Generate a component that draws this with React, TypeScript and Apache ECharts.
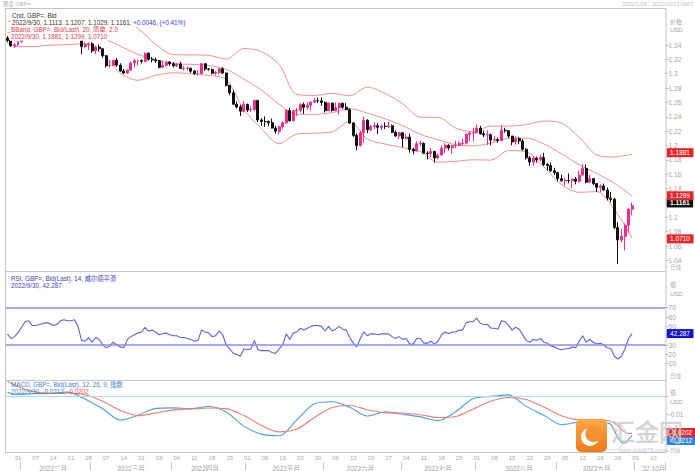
import React, { useEffect, useRef } from "react";
import * as echarts from "echarts";

const FONT = "'Liberation Sans', Arial, 'Noto Sans CJK SC', sans-serif";

const firstDay = "2022-01-26";
const lastDay = "2022-10-13";

// daily bars: [open, high, low, close]
const janBars = [
  [1.3497, 1.3526, 1.3438, 1.3464], [1.3464, 1.3470, 1.3372, 1.3388], [1.3388, 1.3428, 1.3358, 1.3405],
  [1.3405, 1.3452, 1.3384, 1.3446],
];
const febBars = [
  [1.3446, 1.3528, 1.3431, 1.3513], [1.3513, 1.3588, 1.3500, 1.3585], [1.3585, 1.3628, 1.3524, 1.3594],
  [1.3594, 1.3644, 1.3519, 1.3529], [1.3529, 1.3551, 1.3497, 1.3531], [1.3531, 1.3565, 1.3510, 1.3537],
  [1.3537, 1.3575, 1.3527, 1.3556], [1.3556, 1.3644, 1.3529, 1.3563], [1.3563, 1.3591, 1.3522, 1.3555],
  [1.3555, 1.3563, 1.3498, 1.3535], [1.3535, 1.3554, 1.3488, 1.3537], [1.3537, 1.3598, 1.3521, 1.3589],
  [1.3589, 1.3642, 1.3580, 1.3600], [1.3600, 1.3626, 1.3571, 1.3592], [1.3592, 1.3643, 1.3575, 1.3590],
  [1.3590, 1.3626, 1.3532, 1.3609], [1.3609, 1.3620, 1.3538, 1.3554], [1.3554, 1.3567, 1.3272, 1.3378],
  [1.3378, 1.3437, 1.3353, 1.3407], [1.3407, 1.3438, 1.3335, 1.3416],
];
const marBars = [
  [1.3416, 1.3438, 1.3290, 1.3319], [1.3319, 1.3390, 1.3274, 1.3373], [1.3373, 1.3408, 1.3310, 1.3347],
  [1.3347, 1.3356, 1.3223, 1.3250], [1.3250, 1.3262, 1.3086, 1.3111], [1.3111, 1.3187, 1.3088, 1.3116],
  [1.3116, 1.3195, 1.3104, 1.3187], [1.3187, 1.3218, 1.3095, 1.3120], [1.3120, 1.3145, 1.3030, 1.3037],
  [1.3037, 1.3066, 1.2999, 1.3009], [1.3009, 1.3060, 1.3000, 1.3049], [1.3049, 1.3167, 1.3043, 1.3149],
  [1.3149, 1.3210, 1.3090, 1.3181], [1.3181, 1.3198, 1.3118, 1.3183], [1.3183, 1.3198, 1.3140, 1.3173],
  [1.3173, 1.3298, 1.3160, 1.3284], [1.3284, 1.3298, 1.3181, 1.3202], [1.3202, 1.3235, 1.3159, 1.3193],
  [1.3193, 1.3223, 1.3150, 1.3182], [1.3182, 1.3190, 1.3077, 1.3090], [1.3090, 1.3184, 1.3079, 1.3116],
  [1.3116, 1.3168, 1.3100, 1.3164], [1.3164, 1.3176, 1.3110, 1.3138],
];
const aprBars = [
  [1.3138, 1.3164, 1.3088, 1.3111], [1.3111, 1.3148, 1.3093, 1.3136], [1.3136, 1.3167, 1.3066, 1.3073],
  [1.3073, 1.3107, 1.3045, 1.3074], [1.3074, 1.3102, 1.3050, 1.3077], [1.3077, 1.3083, 1.3012, 1.3036],
  [1.3036, 1.3055, 1.2983, 1.3000], [1.3000, 1.3054, 1.2973, 1.3004], [1.3004, 1.3148, 1.2990, 1.3139],
  [1.3139, 1.3148, 1.3038, 1.3066], [1.3066, 1.3080, 1.3040, 1.3061], [1.3061, 1.3070, 1.2989, 1.3006],
  [1.3006, 1.3039, 1.2975, 1.3017], [1.3017, 1.3077, 1.2993, 1.3068], [1.3068, 1.3090, 1.2996, 1.3010],
  [1.3010, 1.3016, 1.2820, 1.2838], [1.2838, 1.2843, 1.2700, 1.2734], [1.2734, 1.2771, 1.2570, 1.2576],
  [1.2576, 1.2613, 1.2516, 1.2537], [1.2537, 1.2567, 1.2411, 1.2479], [1.2479, 1.2620, 1.2462, 1.2574],
];
const mayBars = [
  [1.2574, 1.2582, 1.2467, 1.2494], [1.2494, 1.2545, 1.2470, 1.2500], [1.2500, 1.2638, 1.2484, 1.2627],
  [1.2627, 1.2638, 1.2325, 1.2356], [1.2356, 1.2380, 1.2275, 1.2336], [1.2336, 1.2406, 1.2260, 1.2333],
  [1.2333, 1.2350, 1.2269, 1.2317], [1.2317, 1.2376, 1.2237, 1.2243], [1.2243, 1.2275, 1.2165, 1.2199],
  [1.2199, 1.2279, 1.2155, 1.2262], [1.2262, 1.2337, 1.2232, 1.2316], [1.2316, 1.2500, 1.2300, 1.2487],
  [1.2487, 1.2525, 1.2335, 1.2345], [1.2345, 1.2500, 1.2338, 1.2482], [1.2482, 1.2524, 1.2410, 1.2492],
  [1.2492, 1.2592, 1.2460, 1.2569], [1.2569, 1.2600, 1.2440, 1.2533], [1.2533, 1.2599, 1.2500, 1.2562],
  [1.2562, 1.2617, 1.2487, 1.2604], [1.2604, 1.2664, 1.2592, 1.2624], [1.2624, 1.2667, 1.2594, 1.2622],
  [1.2622, 1.2668, 1.2554, 1.2600],
];
const junBars = [
  [1.2600, 1.2614, 1.2459, 1.2486], [1.2486, 1.2599, 1.2480, 1.2591], [1.2591, 1.2595, 1.2473, 1.2489],
  [1.2489, 1.2599, 1.2480, 1.2526], [1.2526, 1.2599, 1.2430, 1.2586], [1.2586, 1.2599, 1.2512, 1.2534],
  [1.2534, 1.2591, 1.2492, 1.2498], [1.2498, 1.2522, 1.2300, 1.2313], [1.2313, 1.2322, 1.2119, 1.2141],
  [1.2141, 1.2170, 1.1934, 1.1999], [1.1999, 1.2206, 1.1987, 1.2179], [1.2179, 1.2406, 1.2040, 1.2352],
  [1.2352, 1.2367, 1.2171, 1.2221], [1.2221, 1.2287, 1.2200, 1.2263], [1.2263, 1.2324, 1.2230, 1.2275],
  [1.2275, 1.2315, 1.2160, 1.2254], [1.2254, 1.2295, 1.2212, 1.2268], [1.2268, 1.2323, 1.2226, 1.2264],
  [1.2264, 1.2332, 1.2243, 1.2274], [1.2274, 1.2293, 1.2172, 1.2184], [1.2184, 1.2213, 1.2123, 1.2132],
  [1.2132, 1.2190, 1.2089, 1.2177],
];
const julBars = [
  [1.2177, 1.2187, 1.1975, 1.2096], [1.2096, 1.2165, 1.2085, 1.2118], [1.2118, 1.2165, 1.1900, 1.1945],
  [1.1945, 1.1970, 1.1876, 1.1924], [1.1924, 1.2058, 1.1917, 1.2025], [1.2025, 1.2066, 1.1990, 1.2030],
  [1.2030, 1.2045, 1.1880, 1.1893], [1.1893, 1.1920, 1.1807, 1.1888], [1.1888, 1.1966, 1.1838, 1.1917],
  [1.1917, 1.1927, 1.1760, 1.1827], [1.1827, 1.1888, 1.1810, 1.1867], [1.1867, 1.2001, 1.1862, 1.1963],
  [1.1963, 1.2033, 1.1890, 1.2004], [1.2004, 1.2018, 1.1934, 1.1970], [1.1970, 1.2010, 1.1888, 1.1999],
  [1.1999, 1.2063, 1.1961, 1.2000], [1.2000, 1.2064, 1.1990, 1.2030], [1.2030, 1.2097, 1.1998, 1.2033],
  [1.2033, 1.2170, 1.2016, 1.2156], [1.2156, 1.2194, 1.2062, 1.2175], [1.2175, 1.2246, 1.2063, 1.2178],
];
const augBars = [
  [1.2178, 1.2293, 1.2166, 1.2243], [1.2243, 1.2275, 1.2153, 1.2164], [1.2164, 1.2210, 1.2117, 1.2147],
  [1.2147, 1.2211, 1.2004, 1.2150], [1.2150, 1.2166, 1.2004, 1.2076], [1.2076, 1.2132, 1.2059, 1.2082],
  [1.2082, 1.2107, 1.2040, 1.2071], [1.2071, 1.2277, 1.2065, 1.2213], [1.2213, 1.2248, 1.2180, 1.2206],
  [1.2206, 1.2213, 1.2103, 1.2131], [1.2131, 1.2134, 1.2003, 1.2050], [1.2050, 1.2128, 1.2011, 1.2096],
  [1.2096, 1.2119, 1.2018, 1.2064], [1.2064, 1.2089, 1.1927, 1.1948], [1.1948, 1.1962, 1.1805, 1.1828],
  [1.1828, 1.1856, 1.1718, 1.1770], [1.1770, 1.1853, 1.1718, 1.1824], [1.1824, 1.1846, 1.1762, 1.1801],
  [1.1801, 1.1868, 1.1780, 1.1833], [1.1833, 1.1900, 1.1716, 1.1736], [1.1736, 1.1760, 1.1650, 1.1720],
  [1.1720, 1.1764, 1.1636, 1.1647], [1.1647, 1.1690, 1.1590, 1.1622],
];
const sepBars = [
  [1.1622, 1.1635, 1.1500, 1.1538], [1.1538, 1.1595, 1.1496, 1.1509], [1.1509, 1.1548, 1.1444, 1.1515],
  [1.1515, 1.1610, 1.1474, 1.1512], [1.1512, 1.1535, 1.1406, 1.1534], [1.1534, 1.1561, 1.1458, 1.1502],
  [1.1502, 1.1647, 1.1482, 1.1588], [1.1588, 1.1738, 1.1579, 1.1681], [1.1681, 1.1738, 1.1472, 1.1489],
  [1.1489, 1.1593, 1.1483, 1.1539], [1.1539, 1.1546, 1.1450, 1.1470], [1.1470, 1.1472, 1.1351, 1.1418],
  [1.1418, 1.1458, 1.1350, 1.1436], [1.1436, 1.1469, 1.1373, 1.1379], [1.1379, 1.1416, 1.1236, 1.1268],
  [1.1268, 1.1354, 1.1211, 1.1251], [1.1251, 1.1274, 1.0839, 1.0858], [1.0858, 1.0932, 1.0350, 1.0685],
  [1.0685, 1.0838, 1.0650, 1.0734], [1.0734, 1.0916, 1.0539, 1.0889], [1.0889, 1.1127, 1.0785, 1.1115],
  [1.1113, 1.1207, 1.1029, 1.1161],
];

// Bollinger band (20, 2.0) read at weekly points (trading-day index)
const bandIdx = [0, 2, 7, 12, 17, 22, 27, 32, 37, 42, 47, 52, 57, 62, 67, 72, 77, 82, 87, 92, 97, 102, 107, 112, 117, 122, 127, 132, 137, 142, 147, 152, 157, 162, 167, 172, 177];
const bandUpper = [1.3723, 1.3744, 1.3749, 1.3670, 1.3645, 1.3663, 1.3705, 1.3757, 1.3630, 1.3410, 1.3266, 1.3262, 1.3256, 1.3204, 1.3351, 1.3307, 1.3127, 1.2710, 1.2697, 1.2726, 1.2693, 1.2813, 1.2725, 1.2582, 1.2394, 1.2393, 1.2243, 1.2193, 1.2271, 1.2269, 1.2291, 1.2341, 1.2313, 1.2116, 1.1867, 1.1841, 1.1881];
const bandMiddle = [1.3575, 1.3564, 1.3563, 1.3533, 1.3525, 1.3540, 1.3492, 1.3383, 1.3269, 1.3194, 1.3140, 1.3131, 1.3116, 1.3061, 1.2925, 1.2771, 1.2575, 1.2435, 1.2434, 1.2458, 1.2513, 1.2452, 1.2373, 1.2277, 1.2156, 1.2081, 1.2012, 1.1997, 1.2034, 1.2100, 1.2102, 1.2022, 1.1885, 1.1732, 1.1612, 1.1474, 1.1299];
const bandLower = [1.3427, 1.3383, 1.3377, 1.3397, 1.3405, 1.3417, 1.3279, 1.3010, 1.2909, 1.2978, 1.3014, 1.3000, 1.2976, 1.2919, 1.2500, 1.2235, 1.2024, 1.2159, 1.2172, 1.2190, 1.2333, 1.2090, 1.2021, 1.1971, 1.1918, 1.1769, 1.1781, 1.1801, 1.1797, 1.1930, 1.1913, 1.1703, 1.1456, 1.1348, 1.1358, 1.1107, 1.0710];

// RSI (14) daily
const rsiValues = [
  42, 37, 39, 43, 49, 55, 56, 51, 51, 52,
  53, 54, 53, 51, 52, 56, 57, 56, 56, 57,
  50, 35, 34, 38, 33, 38, 36, 30, 27, 29,
  33, 30, 28, 27, 36, 39, 41, 43, 44, 49,
  45, 46, 44, 41, 42, 43, 41, 40, 40, 38,
  38, 37, 36, 34, 35, 46, 44, 43, 39, 40,
  45, 41, 30, 26, 21, 20, 18, 26, 25, 26,
  35, 25, 24, 24, 24, 22, 21, 26, 30, 42,
  36, 43, 44, 48, 46, 48, 50, 51, 51, 50,
  45, 50, 45, 47, 50, 47, 46, 38, 32, 28,
  37, 44, 40, 42, 42, 41, 42, 42, 42, 39,
  37, 39, 36, 37, 31, 31, 37, 37, 32, 32,
  34, 31, 34, 41, 44, 42, 44, 44, 46, 46,
  54, 55, 55, 59, 53, 52, 52, 48, 48, 47,
  56, 55, 51, 46, 49, 47, 41, 35, 33, 36,
  35, 37, 33, 32, 29, 28, 26, 25, 26, 26,
  28, 27, 34, 40, 33, 36, 33, 31, 32, 30,
  27, 26, 18, 15, 18, 26, 37, 42.287,
];

// MACD (12, 26, 9)
const macdIdx = [0, 2, 7, 12, 17, 22, 27, 32, 37, 42, 47, 52, 57, 62, 67, 72, 77, 82, 87, 92, 97, 102, 107, 112, 117, 122, 127, 132, 137, 142, 147, 152, 157, 162, 167, 168, 169, 170, 171, 172, 173, 174, 175, 176, 177];
const macdLine = [0.0022, 0.0008, 0.0012, 0.0014, 0.0021, -0.0016, -0.0069, -0.0130, -0.0104, -0.0067, -0.0064, -0.0068, -0.0057, -0.0086, -0.0163, -0.0206, -0.0215, -0.0129, -0.0042, -0.0031, -0.0061, -0.0108, -0.0086, -0.0099, -0.0113, -0.0133, -0.0085, -0.0014, -0.0002, 0.0006, -0.0056, -0.0104, -0.0155, -0.0140, -0.0137, -0.0135, -0.0137, -0.0146, -0.0153, -0.0187, -0.0226, -0.0250, -0.0254, -0.0236, -0.0212];
const signalLine = [0.0080, 0.0060, 0.0025, 0.0014, 0.0016, 0.0007, -0.0028, -0.0078, -0.0106, -0.0092, -0.0075, -0.0070, -0.0065, -0.0068, -0.0106, -0.0159, -0.0194, -0.0179, -0.0116, -0.0062, -0.0051, -0.0074, -0.0090, -0.0092, -0.0101, -0.0116, -0.0111, -0.0070, -0.0028, -0.0008, -0.0019, -0.0060, -0.0107, -0.0128, -0.0127, -0.0128, -0.0130, -0.0133, -0.0137, -0.0147, -0.0163, -0.0180, -0.0195, -0.0203, -0.0202];

const lastClose = 1.1161;
const lastRsi = 42.287;

const monthLabelDays = ["2022-02-14", "2022-03-16", "2022-04-14", "2022-05-17", "2022-06-15", "2022-07-15", "2022-08-17", "2022-09-16", "2022-10-10"];
const monthLabelTexts = ["2022二月", "2022三月", "2022四月", "2022五月", "2022六月", "2022七月", "2022八月", "2022九月", "'22 10月"];

function tradingDays(from: string, to: string): string[] {
  const out: string[] = [];
  const d = new Date(from + "T00:00:00Z");
  const end = new Date(to + "T00:00:00Z");
  while (d <= end) {
    const wd = d.getUTCDay();
    if (wd !== 0 && wd !== 6) out.push(d.toISOString().slice(0, 10));
    d.setUTCDate(d.getUTCDate() + 1);
  }
  return out;
}

function buildOption() {
  const dates = tradingDays(firstDay, lastDay);
  const bars = [...janBars, ...febBars, ...marBars, ...aprBars, ...mayBars, ...junBars, ...julBars, ...augBars, ...sepBars];
  const candleData = bars.map((b) => [b[0], b[3], b[2], b[1]]);
  const pairs = (idx: number[], vals: number[]) => idx.map((i, k) => [i, vals[k]]);
  const isMonday = dates.map((d) => new Date(d + "T00:00:00Z").getUTCDay() === 1);
  const isMonthStart = dates.map((d, i) => i > 0 && d.slice(5, 7) !== dates[i - 1].slice(5, 7));
  const monthMap: Record<string, string> = {};
  monthLabelDays.forEach((d, k) => (monthMap[d] = monthLabelTexts[k]));

  const GL = 5.65;
  const GR = 29.4;
  const RED = "#e3262c";
  const BAND = "#f0938a";
  const UP = "#ee2f88";
  const tag = (bg: string, text: string, extra: any = {}) => ({
    show: true,
    position: "end",
    distance: 1,
    formatter: () => text,
    color: "#fff",
    backgroundColor: bg,
    padding: [1, 3.5, 0.5, 3.5],
    fontSize: 6.5,
    lineHeight: 7.5,
    fontFamily: FONT,
    ...extra,
  });
  const tagLine = (value: number, label: any) => ({
    symbol: "none",
    silent: true,
    animation: false,
    lineStyle: { color: "rgba(0,0,0,0)", width: 0.1 },
    label,
    data: [{ yAxis: value }],
  });
  const hiddenX = (gi: number) => ({ type: "category", gridIndex: gi, data: dates, boundaryGap: true, show: false });
  const axisLabelBase = { fontSize: 6.5, color: "#a3a3a3", margin: 3, fontFamily: FONT };
  const tick = { show: true, length: 3, lineStyle: { color: "#bdbdbd" } };

  const t = (x: number, y: number, text: string, fill: string, size: number, extra: any = {}) => ({
    type: "text",
    x,
    y,
    z: 60,
    style: { text, fill, fontSize: size, fontFamily: FONT, textVerticalAlign: "middle", ...extra },
  });
  const ln = (x1: number, y1: number, x2: number, y2: number, color = "#c4c4c4") => ({
    type: "line",
    z: 55,
    shape: { x1, y1, x2, y2 },
    style: { stroke: color, lineWidth: 1 },
  });

  const graphic: any[] = [
    // frames
    ln(5, 8.5, 666, 8.5),
    ln(5.5, 8.5, 5.5, 452.5),
    ln(666, 8.5, 666, 452.5),
    ln(5, 271.5, 666, 271.5),
    ln(5, 380.5, 666, 380.5),
    ln(5, 452.5, 666, 452.5),
    // header
    t(3, 3.5, "图表 GBP=", "#b0b0b0", 5.5),
    t(693, 3.5, "2022/1/26 - 2022/10/13 GMT", "#c0c0c0", 5.5, { textAlign: "right" }),
    // price legend
    t(11, 15, "Cnd, GBP=, Bid", "#333", 6.3, { backgroundColor: "#fff", padding: [1, 1] }),
    t(11, 22.5, "{a|2022/9/30, 1.1113, 1.1207, 1.1029, 1.1161, }{b|+0.0046, (+0.41%)}", "#333", 6.3, {
      backgroundColor: "#fff",
      padding: [1, 1],
      rich: { a: { fill: "#333", fontSize: 6.3, fontFamily: FONT }, b: { fill: "#2b3bff", fontSize: 6.3, fontFamily: FONT } },
    }),
    t(10, 29.5, "BBand, GBP=, Bid(Last), 20, 简单, 2.0", "#e8354c", 6.3, { backgroundColor: "#fff", padding: [1, 1] }),
    t(10, 36.5, "2022/9/30, 1.1881, 1.1299, 1.0710", "#e8354c", 6.3, { backgroundColor: "#fff", padding: [1, 1] }),
    // RSI legend
    t(11, 278, "RSI, GBP=, Bid(Last), 14, 威尔德平滑", "#4040c8", 6.3),
    t(11, 285, "2022/9/30, 42.287", "#4040c8", 6.3),
    // MACD legend
    t(11, 384.5, "MACD, GBP=, Bid(Last), 12, 26, 9, 指数", "#3d7fd6", 6.3),
    t(11, 391.5, "{a|2022/9/30, -0.0212, }{b|-0.0202}", "#3d7fd6", 6.3, {
      rich: { a: { fill: "#3d7fd6", fontSize: 6.3, fontFamily: FONT }, b: { fill: "#f2574a", fontSize: 6.3, fontFamily: FONT } },
    }),
    // axis headers
    t(670, 22, "价格", "#a3a3a3", 6),
    t(670, 30, "USD", "#a3a3a3", 6),
    t(670, 266.5, "日线", "#b3b3b3", 5.5),
    t(670, 285, "值", "#a3a3a3", 6),
    t(670, 294, "USD", "#a3a3a3", 6),
    t(670, 375.5, "日线", "#b3b3b3", 5.5),
    t(670, 393, "值", "#a3a3a3", 6),
    t(670, 402, "USD", "#a3a3a3", 6),
    t(670, 449.5, "日线", "#b3b3b3", 5),
    // watermark
    {
      type: "group",
      z: 80,
      children: [
        {
          type: "rect",
          z: 80,
          shape: { x: 576, y: 419, width: 31, height: 33, r: 5 },
          style: {
            fill: new echarts.graphic.LinearGradient(0, 0, 0, 1, [
              { offset: 0, color: "#f9a94a" },
              { offset: 1, color: "#ef7a1a" },
            ]),
          },
        },
        { type: "circle", z: 81, shape: { cx: 590, cy: 437, r: 9 }, style: { fill: "#fff" } },
        { type: "circle", z: 82, shape: { cx: 593.5, cy: 434, r: 8.2 }, style: { fill: "#f39334" } },
        { type: "circle", z: 79, shape: { cx: 612, cy: 436, r: 14 }, style: { fill: "none", stroke: "#d6dbe6", lineWidth: 1.2, opacity: 0.7 } },
        {
          type: "text",
          z: 80,
          x: 611,
          y: 430.5,
          style: {
            text: "汇金网",
            fill: "rgba(205,205,205,0.8)",
            stroke: "rgba(170,170,170,0.5)",
            lineWidth: 0.6,
            fontSize: 24,
            fontFamily: "'Noto Sans CJK SC', sans-serif",
            textVerticalAlign: "middle",
          },
        },
        {
          type: "text",
          z: 80,
          x: 618,
          y: 449.5,
          style: { text: "www.gold678.com", fill: "rgba(175,185,210,0.85)", fontSize: 6, fontFamily: FONT, textVerticalAlign: "middle" },
        },
      ],
    },
  ];

  return {
    animation: false,
    backgroundColor: "#fff",
    textStyle: { fontFamily: FONT },
    grid: [
      { left: GL, right: GR, top: 45, height: 215.4 },
      { left: GL, right: GR, top: 307.7, height: 56 },
      { left: GL, right: GR, top: 396, height: 55.5 },
      { left: GL, right: GR, top: 452, height: 0.5 },
    ],
    xAxis: [
      hiddenX(0),
      hiddenX(1),
      hiddenX(2),
      {
        type: "category",
        gridIndex: 3,
        data: dates,
        boundaryGap: true,
        position: "bottom",
        axisLine: { show: false },
        axisTick: { show: false },
        splitLine: { show: false },
        axisLabel: {
          interval: (i: number) => isMonday[i],
          formatter: (v: string) => v.slice(8, 10),
          fontSize: 6,
          color: "#ababab",
          margin: 3,
          fontFamily: FONT,
        },
      },
      {
        type: "category",
        gridIndex: 3,
        data: dates,
        boundaryGap: true,
        position: "bottom",
        offset: 10,
        axisLine: { show: false },
        axisTick: { show: true, interval: (i: number) => isMonthStart[i], length: 8, lineStyle: { color: "#c8c8c8" } },
        splitLine: { show: false },
        axisLabel: {
          interval: (i: number, v: string) => !!monthMap[v],
          formatter: (v: string) => monthMap[v] || "",
          fontSize: 6.5,
          color: "#a0a0a0",
          margin: 3,
          fontFamily: FONT,
        },
      },
    ],
    yAxis: [
      {
        type: "value",
        gridIndex: 0,
        position: "right",
        min: 1.04,
        max: 1.34,
        interval: 0.02,
        axisLine: { show: false },
        axisTick: tick,
        splitLine: { show: false },
        axisLabel: {
          ...axisLabelBase,
          formatter: (v: number) => (Math.abs(v - 1.12) < 1e-6 ? "" : String(parseFloat(v.toFixed(2)))),
        },
      },
      {
        type: "value",
        gridIndex: 1,
        position: "right",
        min: 10,
        max: 70,
        interval: 10,
        axisLine: { show: false },
        axisTick: tick,
        splitLine: { show: false },
        axisLabel: { ...axisLabelBase, formatter: (v: number) => (Math.abs(v - 40) < 1e-6 ? "" : String(v)) },
      },
      {
        type: "value",
        gridIndex: 2,
        position: "right",
        min: -0.03,
        max: 0,
        interval: 0.01,
        axisLine: { show: false },
        axisTick: tick,
        splitLine: { show: false },
        axisLabel: {
          ...axisLabelBase,
          formatter: (v: number) => (Math.abs(v + 0.01) < 1e-6 ? "-0.01" : ""),
        },
      },
      { type: "value", gridIndex: 3, show: false },
    ],
    series: [
      {
        type: "candlestick",
        xAxisIndex: 0,
        yAxisIndex: 0,
        data: candleData,
        barWidth: "70%",
        clip: false,
        itemStyle: { color: UP, color0: "#111", borderColor: UP, borderColor0: "#111", borderWidth: 1 },
        markLine: tagLine(lastClose, tag("#111", "1.1161", { fontWeight: "bold" })),
        z: 3,
      },
      {
        type: "line",
        xAxisIndex: 0,
        yAxisIndex: 0,
        data: pairs(bandIdx, bandUpper),
        showSymbol: false,
        smooth: 0.3,
        clip: false,
        lineStyle: { color: BAND, width: 1 },
        markLine: tagLine(1.1881, tag(RED, "1.1881")),
        z: 2,
      },
      {
        type: "line",
        xAxisIndex: 0,
        yAxisIndex: 0,
        data: pairs(bandIdx, bandMiddle),
        showSymbol: false,
        smooth: 0.3,
        clip: false,
        lineStyle: { color: BAND, width: 1 },
        markLine: tagLine(1.1299, tag(RED, "1.1299")),
        z: 2,
      },
      {
        type: "line",
        xAxisIndex: 0,
        yAxisIndex: 0,
        data: pairs(bandIdx, bandLower),
        showSymbol: false,
        smooth: 0.3,
        clip: false,
        lineStyle: { color: BAND, width: 1 },
        markLine: tagLine(1.0710, tag(RED, "1.0710")),
        z: 2,
      },
      {
        type: "line",
        xAxisIndex: 1,
        yAxisIndex: 1,
        data: rsiValues,
        showSymbol: false,
        clip: false,
        lineStyle: { color: "#5b63d6", width: 1.1 },
        markLine: {
          symbol: "none",
          silent: true,
          label: { show: false },
          lineStyle: { color: "#8d8cf2", width: 1.6, type: "solid" },
          data: [
            { yAxis: 70 },
            { yAxis: 30 },
            {
              yAxis: lastRsi,
              lineStyle: { color: "rgba(0,0,0,0)", width: 0.1 },
              label: tag("#1414c8", "42.287"),
            },
          ],
        },
      },
      {
        type: "line",
        xAxisIndex: 2,
        yAxisIndex: 2,
        data: pairs(macdIdx, macdLine),
        showSymbol: false,
        smooth: 0.3,
        clip: false,
        lineStyle: { color: "#4c9fe3", width: 1.1 },
        markLine: {
          symbol: "none",
          silent: true,
          label: { show: false },
          lineStyle: { color: "#a6dcf4", width: 1.2, type: "solid" },
          data: [
            { yAxis: 0 },
            {
              yAxis: -0.0212,
              lineStyle: { color: "rgba(0,0,0,0)", width: 0.1 },
              label: tag("#2a86e0", "-0.0212", { offset: [0, 7.5] }),
            },
          ],
        },
      },
      {
        type: "line",
        xAxisIndex: 2,
        yAxisIndex: 2,
        data: pairs(macdIdx, signalLine),
        showSymbol: false,
        smooth: 0.3,
        clip: false,
        lineStyle: { color: "#f27d6e", width: 1.1 },
        markLine: tagLine(-0.0202, tag(RED, "-0.0202", { offset: [0, -0.5] })),
      },
    ],
    graphic,
  };
}

export default function App() {
  const ref = useRef<HTMLDivElement>(null);
  useEffect(() => {
    if (!ref.current) return;
    const chart = echarts.init(ref.current, null, { renderer: "svg" });
    chart.setOption(buildOption() as any);
    return () => chart.dispose();
  }, []);
  return (
    <div
      ref={ref}
      style={{ position: "fixed", left: 0, top: 0, width: 695, height: 471, background: "#fff" }}
    />
  );
}
